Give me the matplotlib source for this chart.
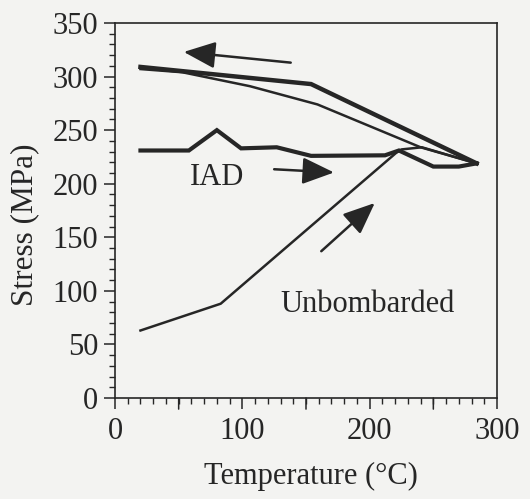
import matplotlib
matplotlib.use("Agg")
import matplotlib.pyplot as plt
from matplotlib.ticker import MultipleLocator
from matplotlib.patches import FancyArrowPatch

# Data (temperature in °C, stress in MPa)
iad_heat_T = [20, 58, 80, 99, 127, 154, 212, 223, 250, 270, 284]
iad_heat_S = [231, 231, 250, 233, 234, 226, 226.5, 231, 216, 216, 219]
iad_cool_T = [284, 154, 20]
iad_cool_S = [219, 293, 309]

unb_heat_T = [20, 83, 221, 225, 241, 284]
unb_heat_S = [63, 88, 229, 232, 234, 219]
unb_cool_T = [284, 240, 159, 106, 53, 20]
unb_cool_S = [219, 234, 274, 291, 304, 307]

arrow_left = [(138, 313), (54, 323)]
arrow_right = [(125, 213.5), (172, 210.5)]
arrow_up = [(162, 137), (204, 182)]

labels = [("IAD", 80, 206), ("Unbombarded", 198, 87)]

x_ticks = [0, 100, 200, 300]
x_mid_ticks = [50, 150, 250]
y_ticks = [0, 50, 100, 150, 200, 250, 300, 350]

plt.rcParams['font.family'] = ['Liberation Serif', 'DejaVu Serif']
ink = '#262626'
bg = '#f3f3f1'
fs = 22

fig = plt.figure(figsize=(5.30, 4.99), dpi=100, facecolor=bg)
ax = fig.add_axes([115/530, 1 - 398/499, (497-115)/530, (398-23)/499])
ax.set_facecolor(bg)

ax.plot(iad_heat_T, iad_heat_S, color=ink, lw=3.0, solid_joinstyle='miter')
ax.plot(iad_cool_T, iad_cool_S, color=ink, lw=3.2, solid_joinstyle='miter')
ax.plot(unb_heat_T, unb_heat_S, color=ink, lw=1.8)
ax.plot(unb_cool_T, unb_cool_S, color=ink, lw=1.8)

for (x0, y0), (x1, y1) in [arrow_left, arrow_right, arrow_up]:
    ax.add_patch(FancyArrowPatch((x0, y0), (x1, y1),
                                 arrowstyle='-|>,head_length=1.3,head_width=0.55',
                                 mutation_scale=15, lw=1.8, color=ink,
                                 shrinkA=0, shrinkB=0))

for txt, x, y in labels:
    ax.text(x, y, txt, fontsize=fs, color=ink, ha='center', va='center')

ax.set_xlim(0, 300)
ax.set_ylim(0, 350)
ax.set_xticks(x_ticks)
ax.set_yticks(y_ticks)
ax.xaxis.set_minor_locator(MultipleLocator(10))
ax.yaxis.set_minor_locator(MultipleLocator(10))

ax.tick_params(axis='both', which='major', direction='out', length=8, width=1.1,
               colors=ink, labelsize=fs, pad=4)
ax.tick_params(axis='both', which='minor', direction='out', length=4, width=1.0, colors=ink)
ax.tick_params(axis='x', which='major', pad=6)

# longer unlabeled ticks at the 50-multiples on the x axis
for t in x_mid_ticks:
    ax.annotate('', xy=(t, 0), xycoords=('data', 'axes fraction'),
                xytext=(0, -8), textcoords='offset points',
                arrowprops=dict(arrowstyle='-', color=ink, lw=1.1,
                                shrinkA=0, shrinkB=0), annotation_clip=False)

for s in ax.spines.values():
    s.set_color(ink)
    s.set_linewidth(1.2)

ax.set_xlabel('Temperature (°C)', fontsize=fs, color=ink)
ax.set_ylabel('Stress (MPa)', fontsize=fs + 0.5, color=ink)
ax.xaxis.set_label_coords(0.513, -0.208)
ax.yaxis.set_label_coords(-0.236, 0.461)
ax.xaxis.label.set_va('center')
ax.yaxis.label.set_va('center')

fig.savefig('out.png', dpi=100, facecolor=bg)
